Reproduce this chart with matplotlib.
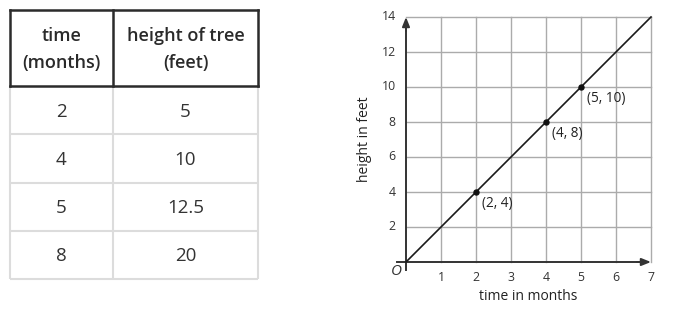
import matplotlib
matplotlib.use("Agg")
import matplotlib.pyplot as plt

plt.rcParams['font.family'] = ['Open Sans', 'DejaVu Sans']

# ---- data ----
table_header = ["time\n(months)", "height of tree\n(feet)"]
table_time = ["2", "4", "5", "8"]
table_height = ["5", "10", "12.5", "20"]

line_x = [0, 7]
line_y = [0, 14]
pt_x = [2, 4, 5]
pt_y = [4, 8, 10]
pt_labels = ["(2, 4)", "(4, 8)", "(5, 10)"]
x_ticks = [1, 2, 3, 4, 5, 6, 7]
y_ticks = [2, 4, 6, 8, 10, 12, 14]
x_label = "time in months"
y_label = "height in feet"

W, H = 678, 310
fig = plt.figure(figsize=(W / 100, H / 100), dpi=100)
fig.patch.set_facecolor("white")

# ---- table (pixel-coordinate axes) ----
tax = fig.add_axes([0, 0, 1, 1])
tax.set_xlim(0, W)
tax.set_ylim(H, 0)
tax.axis("off")

col_edges = [10, 113, 258]
head_top, head_bot = 10, 86
row_h = 48.25
light = "#dcdcdc"
dark = "#2b2b2b"
n = len(table_time)
body_bot = head_bot + n * row_h
for i in range(1, n + 1):
    y = head_bot + i * row_h
    tax.plot([col_edges[0], col_edges[2]], [y, y], color=light, lw=1.5, solid_capstyle="butt")
for x in col_edges:
    tax.plot([x, x], [head_bot, body_bot], color=light, lw=1.5, solid_capstyle="butt")
for x in col_edges:
    tax.plot([x, x], [head_top, head_bot], color=dark, lw=1.8, solid_capstyle="projecting")
for y in [head_top, head_bot]:
    tax.plot([col_edges[0], col_edges[2]], [y, y], color=dark, lw=1.8, solid_capstyle="projecting")

cx = [(col_edges[0] + col_edges[1]) / 2, (col_edges[1] + col_edges[2]) / 2]
for j, txt in enumerate(table_header):
    tax.text(cx[j], (head_top + head_bot) / 2 + 1.5, txt, ha="center", va="center",
             fontsize=13, fontweight="semibold", color="#2a2a2a", linespacing=1.6)
for i in range(n):
    yc = head_bot + (i + 0.5) * row_h + 1.5
    tax.text(cx[0], yc, table_time[i], ha="center", va="center", fontsize=13.5, color="#333333")
    tax.text(cx[1], yc, table_height[i], ha="center", va="center", fontsize=13.5, color="#333333")

# ---- graph ----
ox, oy = 406, 262
xr, yr = 651, 17
ax = fig.add_axes([ox / W, (H - oy) / H, (xr - ox) / W, (oy - yr) / H])
ax.set_xlim(0, 7)
ax.set_ylim(0, 14)
ax.axis("off")

grid_c = "#ababab"
for x in x_ticks:
    ax.plot([x, x], [0, 14], color=grid_c, lw=1.0, zorder=1, clip_on=False)
for y in y_ticks:
    ax.plot([0, 7], [y, y], color=grid_c, lw=1.0, zorder=1, clip_on=False)

axis_c = "#333333"
ax.plot([-0.27, 6.8], [0, 0], color=axis_c, lw=1.4, zorder=3, clip_on=False)
ax.plot([0, 0], [-0.45, 13.6], color=axis_c, lw=1.4, zorder=3, clip_on=False)
ax.annotate("", xy=(7, 0), xytext=(6.6, 0),
            arrowprops=dict(arrowstyle="-|>,head_length=0.55,head_width=0.22",
                            color=axis_c, lw=1.4, shrinkA=0, shrinkB=0),
            annotation_clip=False, zorder=3)
ax.annotate("", xy=(0, 14), xytext=(0, 13.2),
            arrowprops=dict(arrowstyle="-|>,head_length=0.55,head_width=0.22",
                            color=axis_c, lw=1.4, shrinkA=0, shrinkB=0),
            annotation_clip=False, zorder=3)

ax.plot(line_x, line_y, color="#1a1a1a", lw=1.2, zorder=4, clip_on=False)
ax.plot(pt_x, pt_y, "o", color="#111111", ms=3.6, zorder=5, clip_on=False)
for px, py, lab in zip(pt_x, pt_y, pt_labels):
    ax.text(px + 0.16, py - 0.63, lab, ha="left", va="center", fontsize=9.8, color="#222222")

for x in x_ticks:
    ax.text(x, -0.9, str(x), ha="center", va="center", fontsize=8.8, color="#333333")
for y in y_ticks:
    ax.text(-0.3, y, str(y), ha="right", va="center", fontsize=8.8, color="#333333")

ax.text(-0.27, -0.55, "O", ha="center", va="center", fontsize=11, style="italic", color="#333333")
ax.text(3.5, -1.95, x_label, ha="center", va="center", fontsize=10, color="#222222")
ax.text(-1.2, 7, y_label, ha="center", va="center", rotation=90, fontsize=10, color="#222222")

fig.savefig("out.png", dpi=100, facecolor="white")
